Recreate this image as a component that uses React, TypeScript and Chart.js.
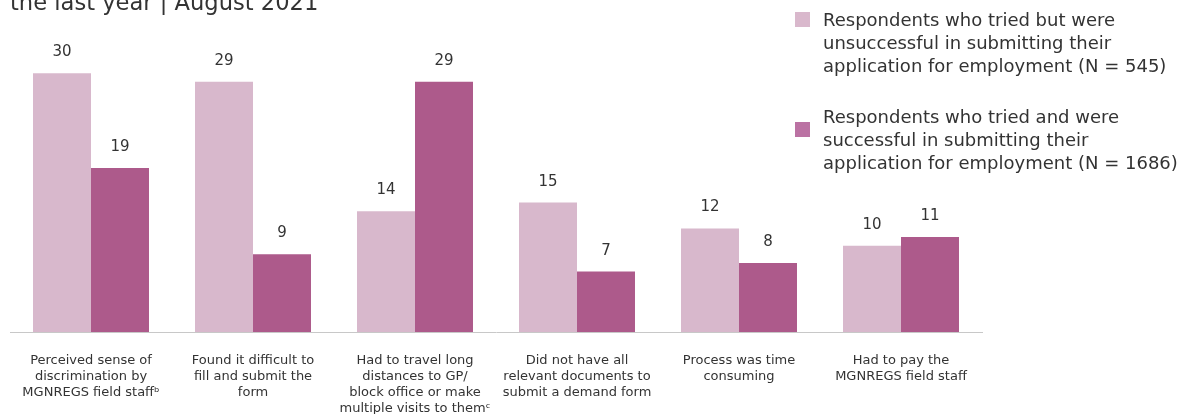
import React, { useEffect, useRef } from "react";
import { Chart, registerables } from "chart.js";

Chart.register(...registerables);

const FONT = "'DejaVu Sans', sans-serif";

const titleText = "the last year | August 2021";

const categories: string[][] = [
  ["Perceived sense of", "discrimination by", "MGNREGS field staffᵇ"],
  ["Found it difficult to", "fill and submit the", "form"],
  ["Had to travel long", "distances to GP/", "block office or make", "multiple visits to themᶜ"],
  ["Did not have all", "relevant documents to", "submit a demand form"],
  ["Process was time", "consuming"],
  ["Had to pay the", "MGNREGS field staff"],
];

const unsuccessful = [30, 29, 14, 15, 12, 10];
const successful = [19, 9, 29, 7, 8, 11];

const seriesNames = [
  ["Respondents who tried but were", "unsuccessful in submitting their", "application for employment (N = 545)"],
  ["Respondents who tried and were", "successful in submitting their", "application for employment (N = 1686)"],
];

const barColors = ["#d8b8cc", "#ad5a8b"];
const legendColors = ["#d9b8cc", "#bb72a3"];

const valueLabels = {
  id: "valueLabels",
  afterDatasetsDraw(chart: any) {
    const ctx = chart.ctx;
    ctx.save();
    ctx.font = `15px ${FONT}`;
    ctx.fillStyle = "#333333";
    ctx.textAlign = "center";
    ctx.textBaseline = "alphabetic";
    chart.data.datasets.forEach((ds: any, i: number) => {
      const meta = chart.getDatasetMeta(i);
      meta.data.forEach((el: any, j: number) => {
        ctx.fillText(String(ds.data[j]), el.x, el.y - 17);
      });
    });
    ctx.restore();
  },
};

export default function App() {
  const ref = useRef<HTMLCanvasElement | null>(null);

  useEffect(() => {
    if (!ref.current) return;
    const chart = new Chart(ref.current, {
      type: "bar",
      data: {
        labels: categories,
        datasets: [
          {
            label: seriesNames[0].join(" "),
            data: unsuccessful,
            backgroundColor: barColors[0],
            categoryPercentage: 0.716,
            barPercentage: 1,
          },
          {
            label: seriesNames[1].join(" "),
            data: successful,
            backgroundColor: barColors[1],
            categoryPercentage: 0.716,
            barPercentage: 1,
          },
        ],
      },
      options: {
        animation: false,
        responsive: false,
        maintainAspectRatio: false,
        layout: { padding: { left: 10, right: 196, top: 30, bottom: 0 } },
        plugins: {
          legend: { display: false },
          tooltip: { enabled: false },
          title: { display: false },
        },
        scales: {
          x: {
            grid: { display: false, drawTicks: false },
            border: { display: true, color: "#c8c8c8", width: 1 },
            ticks: {
              padding: 21,
              color: "#333333",
              font: { family: FONT, size: 13, lineHeight: 1.23 },
              maxRotation: 0,
              autoSkip: false,
            },
            afterFit: (scale: any) => {
              scale.height = 82;
            },
          },
          y: {
            display: false,
            min: 0,
            max: 35,
          },
        },
      },
      plugins: [valueLabels],
    });
    return () => chart.destroy();
  }, []);

  const textStyle: React.CSSProperties = {
    fontFamily: FONT,
    fontSize: 18,
    lineHeight: "23px",
    color: "#333333",
    whiteSpace: "nowrap",
  };

  return (
    <div
      style={{
        position: "fixed",
        left: 0,
        top: 0,
        width: 1178,
        height: 414,
        overflow: "hidden",
        background: "#ffffff",
      }}
    >
      <canvas ref={ref} width={1178} height={414} style={{ position: "absolute", left: 0, top: 0 }} />
      <div
        style={{
          position: "absolute",
          left: 10,
          top: -11,
          fontFamily: FONT,
          fontSize: 22.6,
          color: "#333333",
          whiteSpace: "nowrap",
        }}
      >
        {titleText}
      </div>
      {seriesNames.map((lines, i) => (
        <div key={i}>
          <div
            style={{
              position: "absolute",
              left: 795,
              top: i === 0 ? 12 : 122,
              width: 15,
              height: 15,
              background: legendColors[i],
            }}
          />
          <div style={{ ...textStyle, position: "absolute", left: 823, top: i === 0 ? 8 : 105 }}>
            {lines.map((l, k) => (
              <div key={k}>{l}</div>
            ))}
          </div>
        </div>
      ))}
    </div>
  );
}
